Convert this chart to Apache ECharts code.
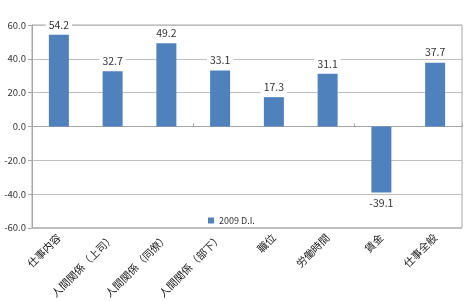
<!DOCTYPE html>
<html>
<head>
<meta charset="utf-8">
<script src="https://cdn.jsdelivr.net/npm/echarts@6/dist/echarts.min.js"></script>
<style>
  html, body { margin: 0; padding: 0; background: #fff; }
  #plot1 { width: 466px; height: 301px; }
</style>
</head>
<body>
<div id="plot1"></div>
<script>
// categories & values (2009 D.I.)
const categories = ['仕事内容', '人間関係（上司）', '人間関係（同僚）', '人間関係（部下）', '職位', '労働時間', '賃金', '仕事全般'];
const values = [54.2, 32.7, 49.2, 33.1, 17.3, 31.1, -39.1, 37.7];
const seriesName = '2009 D.I.';
const yTicks = { min: -60, max: 60, interval: 20 };

const chartDom = document.getElementById('plot1');
const myChart = echarts.init(chartDom);
const font = '"Noto Sans CJK JP", "Liberation Sans", sans-serif';

const barData = values.map(function (v) {
  return {
    value: v,
    label: { position: v < 0 ? 'bottom' : 'top' }
  };
});

const option = {
  animation: false,
  textStyle: { fontFamily: font },
  grid: {
    left: 32, right: 4, top: 25, bottom: 72,
    show: true, borderColor: '#a6a6a6', borderWidth: 1
  },
  legend: {
    left: 203, top: 211,
    itemWidth: 6, itemHeight: 6,
    icon: 'rect',
    textStyle: { fontSize: 9, color: '#333', fontFamily: font },
    data: [seriesName]
  },
  xAxis: [
    {
      type: 'category',
      data: categories,
      axisLine: { onZero: false, show: false },
      axisTick: { show: false },
      axisLabel: { rotate: 45, fontSize: 10.5, color: '#222', margin: 8, interval: 0, fontFamily: font }
    },
    {
      type: 'category',
      data: categories,
      axisLine: { onZero: true, lineStyle: { color: '#a6a6a6' } },
      axisTick: { show: true, length: 3, lineStyle: { color: '#a6a6a6' } },
      axisLabel: { show: false }
    }
  ],
  yAxis: {
    type: 'value',
    min: yTicks.min, max: yTicks.max, interval: yTicks.interval,
    axisLine: { show: true, lineStyle: { color: '#a6a6a6' } },
    axisTick: { show: true, length: 4, lineStyle: { color: '#a6a6a6' } },
    splitLine: { lineStyle: { color: '#bfbfbf' } },
    axisLabel: {
      fontSize: 9.5, color: '#333', margin: 6, fontFamily: font,
      formatter: function (v) { return v.toFixed(1); }
    }
  },
  series: [{
    name: seriesName,
    type: 'bar',
    xAxisIndex: 0,
    data: barData,
    barWidth: 20,
    itemStyle: { color: '#4f81bd' },
    label: {
      show: true,
      fontSize: 10.5,
      color: '#333',
      backgroundColor: '#fff',
      padding: [1, 3],
      distance: 4,
      formatter: function (p) { return p.value.toFixed(1); }
    }
  }]
};

myChart.setOption(option);
</script>
</body>
</html>
